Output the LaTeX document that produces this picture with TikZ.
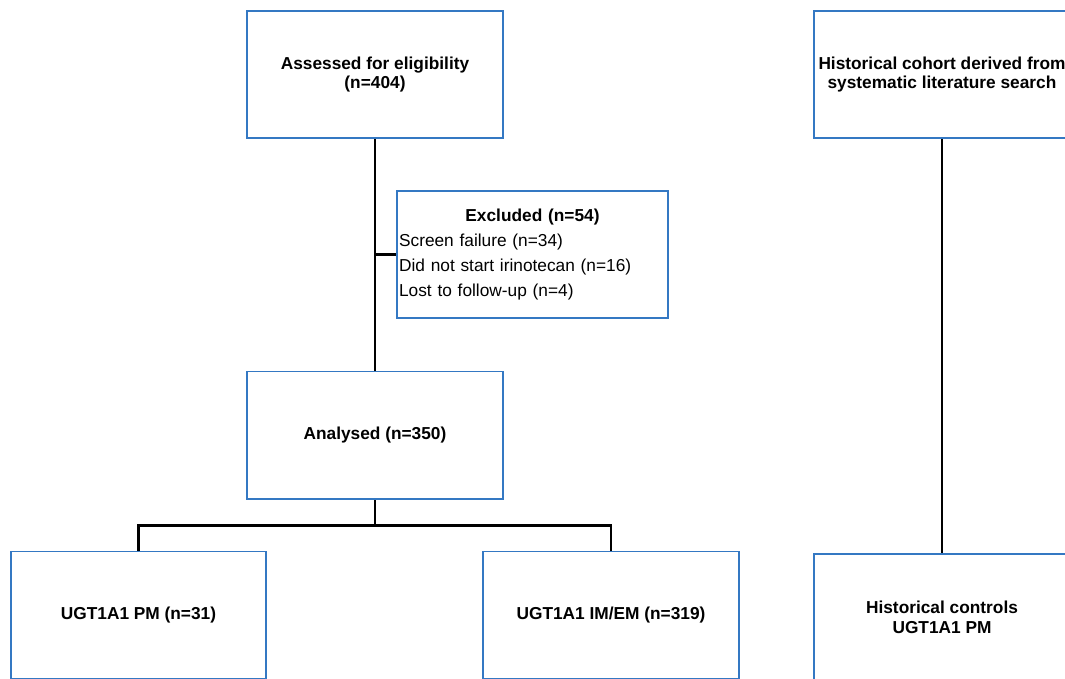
\documentclass[tikz,border=0pt]{standalone}
\usepackage{fontspec}
\setmainfont{Liberation Sans}
\usetikzlibrary{positioning,backgrounds}
\definecolor{boxblue}{RGB}{52,120,195}

\begin{document}
\begin{tikzpicture}[x=0.025cm,y=-0.025cm]
  \tikzstyle{every node}=[font=\fontsize{12.3}{14}\selectfont]
  \tikzstyle{flowbox}=[draw=boxblue,fill=white,line width=1.4pt,minimum width=6.375cm,
    minimum height=3.175cm,align=center,font=\fontsize{12.3}{14}\selectfont\bfseries]
  \tikzstyle{link}=[draw=black,line width=1.7pt]
  \clip (0,0) rectangle (1065,678);
  \node[flowbox] (assessed) at (375,74.5) {Assessed for eligibility\\(n=404)};
  \node[flowbox,minimum width=6.775cm,text width=6.67cm,align=left,inner xsep=1.5pt,
    font=\fontsize{12.3}{17.8}\selectfont] (excluded) at (532.5,254.5)
    {\makebox[\linewidth]{\bfseries Excluded (n=54)}\\
     Screen failure (n=34)\\
     Did not start irinotecan (n=16)\\
     Lost to follow-up (n=4)};
  \node[flowbox] (analysed) at (375,435) {Analysed (n=350)};
  \node[flowbox] (pm) at (138.5,615) {UGT1A1 PM (n=31)};
  \node[flowbox] (imem) at (611,615) {UGT1A1 IM/EM (n=319)};
  \node[flowbox] (cohort) at (942,74.5) {Historical cohort derived from\\systematic literature search};
  \node[flowbox] (controls) at (942,617.5) {Historical controls\\UGT1A1 PM};

  % connectors behind the boxes
  \begin{scope}[on background layer]
    \draw[link] (assessed) -- (analysed);
    \draw[link] (assessed.south |- excluded.west) -- (excluded.west);
    \draw[link] (analysed.south) -- ++(0,26) -| (pm.north);
    \draw[link] (analysed.south) -- ++(0,26) -| (imem.north);
    \draw[link] (cohort) -- (controls);
  \end{scope}
\end{tikzpicture}
\end{document}
